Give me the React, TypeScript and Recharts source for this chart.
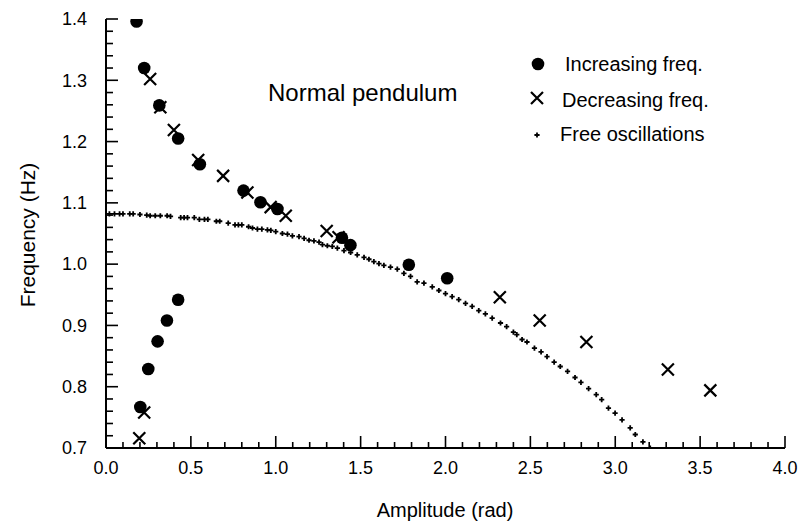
import React from "react";
import { ScatterChart, Scatter, XAxis, YAxis } from "recharts";

// increasing frequency sweep (filled circles)
const incAmp = [0.18, 0.202, 0.225, 0.249, 0.304, 0.314, 0.359, 0.425, 0.425, 0.553, 0.81, 0.91, 1.01, 1.39, 1.44, 1.784, 2.01];
const incFreq = [1.396, 0.767, 1.32, 0.829, 0.874, 1.259, 0.908, 0.942, 1.205, 1.163, 1.12, 1.101, 1.09, 1.043, 1.031, 0.999, 0.977];

// decreasing frequency sweep (crosses)
const decAmp = [0.196, 0.225, 0.26, 0.32, 0.4, 0.543, 0.69, 0.833, 0.97, 1.059, 1.3, 1.37, 2.32, 2.555, 2.83, 3.31, 3.56];
const decFreq = [0.716, 0.758, 1.302, 1.256, 1.219, 1.17, 1.144, 1.117, 1.093, 1.079, 1.054, 1.044, 0.946, 0.908, 0.873, 0.828, 0.794];

// free oscillations (small plus signs)
const freeAmp = [
  0.02, 0.05, 0.08, 0.1, 0.14, 0.16, 0.2, 0.24, 0.26, 0.29, 0.32, 0.36, 0.38, 0.44, 0.46, 0.48, 0.52, 0.55, 0.58, 0.6,
  0.65, 0.67, 0.72, 0.76, 0.78, 0.8, 0.84, 0.863, 0.892, 0.918, 0.951, 0.971, 1.0, 1.039, 1.069, 1.098, 1.137, 1.167,
  1.196, 1.225, 1.255, 1.275, 1.304, 1.333, 1.363, 1.402, 1.441, 1.48, 1.52, 1.549, 1.578, 1.608, 1.637, 1.676, 1.716,
  1.755, 1.794, 1.833, 1.873, 1.922, 1.961, 2.0, 2.039, 2.078, 2.118, 2.157, 2.196, 2.235, 2.275, 2.324, 2.36, 2.4,
  2.42, 2.451, 2.48, 2.524, 2.563, 2.598, 2.64, 2.676, 2.719, 2.763, 2.798, 2.843, 2.888, 2.92, 2.96, 2.999, 3.04,
  3.088, 3.118, 3.163, 3.206,
];
const freeFreq = [
  1.082, 1.082, 1.082, 1.082, 1.082, 1.082, 1.081, 1.08, 1.079, 1.079, 1.079, 1.079, 1.078, 1.076, 1.076, 1.076, 1.076,
  1.073, 1.073, 1.073, 1.07, 1.07, 1.067, 1.064, 1.064, 1.064, 1.061, 1.059, 1.057, 1.057, 1.056, 1.055, 1.053, 1.05,
  1.049, 1.046, 1.045, 1.042, 1.039, 1.038, 1.036, 1.032, 1.03, 1.029, 1.026, 1.022, 1.019, 1.015, 1.011, 1.008, 1.004,
  1.001, 0.998, 0.995, 0.992, 0.985, 0.98, 0.971, 0.969, 0.963, 0.957, 0.952, 0.947, 0.942, 0.936, 0.931, 0.924, 0.919,
  0.912, 0.904, 0.898, 0.889, 0.885, 0.877, 0.873, 0.863, 0.857, 0.849, 0.84, 0.833, 0.825, 0.815, 0.807, 0.797, 0.787,
  0.779, 0.765, 0.757, 0.746, 0.733, 0.722, 0.71, 0.7,
];

const xTicks: number[] = [];
for (let i = 0; i <= 40; i++) xTicks.push(i / 10);
const yTicks: number[] = [];
for (let i = 35; i <= 70; i++) yTicks.push(i / 50);

const legendItems = ["Increasing freq.", "Decreasing freq.", "Free oscillations"];
const FONT = "'Liberation Sans', Arial, sans-serif";

const toPts = (xs: number[], ys: number[]) => xs.map((x, i) => ({ x, y: ys[i] }));

const DotShape = (p: any) => <circle cx={p.cx} cy={p.cy} r={6.3} fill="#000" />;
const CrossShape = (p: any) => {
  const { cx, cy } = p;
  const s = 6;
  return (
    <path d={`M${cx - s},${cy - s}L${cx + s},${cy + s}M${cx + s},${cy - s}L${cx - s},${cy + s}`} stroke="#000" strokeWidth={2.2} />
  );
};
const PlusShape = (p: any) => {
  const { cx, cy } = p;
  const s = 2.6;
  return <path d={`M${cx - s},${cy}H${cx + s}M${cx},${cy - s}V${cy + s}`} stroke="#000" strokeWidth={1.8} />;
};

const isMajorX = (v: number) => Math.round(v * 10) % 5 === 0;
const isMajorY = (v: number) => Math.abs(v * 10 - Math.round(v * 10)) < 1e-6;

// inward ticks, long on the labelled values
const XTick = (props: any) => {
  const x = Number(props.x);
  const y = Number(props.y);
  const v = props.payload.value;
  const major = isMajorX(v);
  return (
    <g>
      <line x1={x} x2={x} y1={y} y2={y - (major ? 12 : 6)} stroke="#000" strokeWidth={1.6} />
      {major && (
        <text x={x} y={y + 20} dy="0.35em" textAnchor="middle" fontSize={18}>
          {v.toFixed(1)}
        </text>
      )}
    </g>
  );
};

const YTick = (props: any) => {
  const x = Number(props.x);
  const y = Number(props.y);
  const v = props.payload.value;
  const major = isMajorY(v);
  return (
    <g>
      <line x1={x} x2={x + (major ? 12 : 7)} y1={y} y2={y} stroke="#000" strokeWidth={1.6} />
      {major && (
        <text x={x - 19} y={y} dy="0.35em" textAnchor="end" fontSize={18}>
          {v.toFixed(1)}
        </text>
      )}
    </g>
  );
};

// titles and legend, drawn in an svg laid over the chart
const Decor = () => (
  <svg width={803} height={523} style={{ position: "absolute", left: 0, top: 0, pointerEvents: "none" }}>
    <text x={268} y={93} dy="0.35em" fontSize={24}>
      Normal pendulum
    </text>
    <text x={445} y={510} dy="0.35em" fontSize={20} textAnchor="middle">
      Amplitude (rad)
    </text>
    <text x={28} y={235} dy="0.35em" fontSize={21} textAnchor="middle" transform="rotate(-90 28 235)">
      Frequency (Hz)
    </text>
    <DotShape cx={538} cy={64} />
    <CrossShape cx={537} cy={98} />
    <PlusShape cx={537} cy={135} />
    <text x={565} y={64} dy="0.35em" fontSize={20}>{legendItems[0]}</text>
    <text x={562} y={100} dy="0.35em" fontSize={20}>{legendItems[1]}</text>
    <text x={560} y={134} dy="0.35em" fontSize={20}>{legendItems[2]}</text>
  </svg>
);

export default function App() {
  return (
    <div style={{ position: "absolute", left: 0, top: 0, width: 803, height: 523, background: "#fff", fontFamily: FONT }}>
      <ScatterChart width={803} height={523} margin={{ top: 19, right: 18, bottom: 45, left: 46 }}>
        <XAxis
          type="number"
          dataKey="x"
          domain={[0, 4]}
          ticks={xTicks}
          interval={0}
          height={30}
          tickSize={0}
          tickMargin={0}
          tick={<XTick />}
          axisLine={{ stroke: "#000", strokeWidth: 2 }}
          allowDataOverflow
        />
        <YAxis
          type="number"
          dataKey="y"
          domain={[0.7, 1.4]}
          ticks={yTicks}
          interval={0}
          width={60}
          tickSize={0}
          tickMargin={0}
          tick={<YTick />}
          axisLine={{ stroke: "#000", strokeWidth: 2 }}
          allowDataOverflow
        />
        <Scatter name="Free oscillations" data={toPts(freeAmp, freeFreq)} shape={<PlusShape />} isAnimationActive={false} />
        <Scatter name="Increasing freq." data={toPts(incAmp, incFreq)} shape={<DotShape />} isAnimationActive={false} />
        <Scatter name="Decreasing freq." data={toPts(decAmp, decFreq)} shape={<CrossShape />} isAnimationActive={false} />
      </ScatterChart>
      <Decor />
    </div>
  );
}
